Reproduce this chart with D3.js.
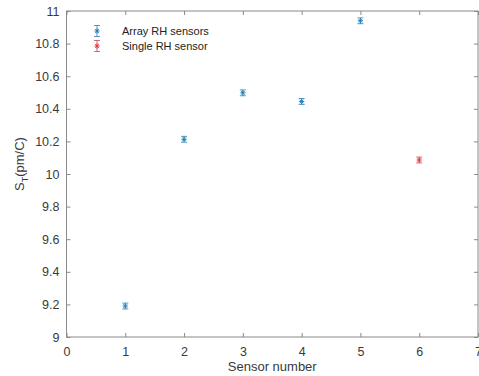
<!DOCTYPE html>
<html>
<head>
<meta charset="utf-8">
<script src="https://cdn.jsdelivr.net/npm/d3@7"></script>
<style>
  html, body { margin: 0; padding: 0; background: #fff; }
  svg { display: block; font-family: Arial, "Liberation Sans", Helvetica, sans-serif; }
</style>
</head>
<body>
<svg id="chart" width="479" height="376"></svg>
<script>
// ---- data ----
const arraySensors = [1, 2, 3, 4, 5];
const arrayValues = [9.19, 10.213, 10.498, 10.445, 10.94];
const arrayErrors = [0.018, 0.018, 0.018, 0.018, 0.018];
const singleSensors = [6];
const singleValues = [10.086];
const singleErrors = [0.018];
const xTicks = [0, 1, 2, 3, 4, 5, 6, 7];
const yTicks = [9, 9.2, 9.4, 9.6, 9.8, 10, 10.2, 10.4, 10.6, 10.8, 11];
const seriesNames = ["Array RH sensors", "Single RH sensor"];
const seriesColors = ["#2a82b5", "#d9404a"];

// ---- layout ----
const svg = d3.select("#chart");
const L = 66.5, R = 478, T = 11, B = 337;
const x = d3.scaleLinear().domain([0, 7]).range([L, R]);
const y = d3.scaleLinear().domain([9, 11]).range([B, T]);
const axisColor = "#8a8a8a";
const textColor = "#3a3a3a";

// plot box
svg.append("rect").attr("x", L).attr("y", T).attr("width", R - L).attr("height", B - T)
  .attr("fill", "none").attr("stroke", axisColor).attr("stroke-width", 1);

// axes (inward ticks)
const gx = svg.append("g").attr("transform", `translate(0,${B})`)
  .call(d3.axisBottom(x).tickValues(xTicks).tickSize(-4).tickPadding(10).tickFormat(d3.format("d")));
const gxTop = svg.append("g").attr("transform", `translate(0,${T})`)
  .call(d3.axisTop(x).tickValues(xTicks).tickSize(-4).tickFormat(""));
const gy = svg.append("g").attr("transform", `translate(${L},0)`)
  .call(d3.axisLeft(y).tickValues(yTicks).tickSize(-4).tickPadding(7).tickFormat(d => d3.format("")(+d.toFixed(1))));
const gyR = svg.append("g").attr("transform", `translate(${R},0)`)
  .call(d3.axisRight(y).tickValues(yTicks).tickSize(-4).tickFormat(""));
[gx, gxTop, gy, gyR].forEach(g => {
  g.select(".domain").remove();
  g.selectAll(".tick line").attr("stroke", axisColor);
  g.selectAll(".tick text").attr("fill", textColor).attr("font-size", 12.5)
    .attr("font-family", "Arial, 'Liberation Sans', sans-serif");
});

// axis labels
svg.append("text").attr("x", (L + R) / 2 + 0).attr("y", 371).attr("text-anchor", "middle")
  .attr("font-size", 13).attr("fill", textColor).text("Sensor number");
const yl = svg.append("text").attr("transform", `translate(24,${(T + B) / 2 - 10}) rotate(-90)`)
  .attr("text-anchor", "middle").attr("font-size", 13).attr("fill", textColor);
yl.append("tspan").text("S");
yl.append("tspan").attr("font-size", 9).attr("dy", 4).text("T");
yl.append("tspan").attr("dy", -4).text("(pm/C)");

// error bar + asterisk marker
function drawPoint(g, cx, cy, yTop, yBot, color) {
  const cap = 3;
  g.append("line").attr("x1", cx).attr("x2", cx).attr("y1", yTop).attr("y2", yBot)
    .attr("stroke", color).attr("stroke-width", 1).attr("opacity", 0.8);
  g.append("line").attr("x1", cx - cap).attr("x2", cx + cap).attr("y1", yTop).attr("y2", yTop)
    .attr("stroke", color).attr("stroke-width", 1).attr("opacity", 0.8);
  g.append("line").attr("x1", cx - cap).attr("x2", cx + cap).attr("y1", yBot).attr("y2", yBot)
    .attr("stroke", color).attr("stroke-width", 1).attr("opacity", 0.8);
  const s = 2.6;
  const path = `M${cx - s},${cy}L${cx + s},${cy}M${cx},${cy - s}L${cx},${cy + s}` +
    `M${cx - s * 0.7},${cy - s * 0.7}L${cx + s * 0.7},${cy + s * 0.7}` +
    `M${cx - s * 0.7},${cy + s * 0.7}L${cx + s * 0.7},${cy - s * 0.7}`;
  g.append("path").attr("d", path).attr("stroke", color).attr("stroke-width", 1).attr("fill", "none");
}

const gPts = svg.append("g");
arraySensors.forEach((s, i) => {
  drawPoint(gPts, x(s), y(arrayValues[i]), y(arrayValues[i] + arrayErrors[i]),
    y(arrayValues[i] - arrayErrors[i]), seriesColors[0]);
});
singleSensors.forEach((s, i) => {
  drawPoint(gPts, x(s), y(singleValues[i]), y(singleValues[i] + singleErrors[i]),
    y(singleValues[i] - singleErrors[i]), seriesColors[1]);
});

// legend
const lg = svg.append("g");
seriesNames.forEach((name, i) => {
  const ly = 31 + i * 15;
  drawPoint(lg, 97, ly, ly - 5.5, ly + 5.5, seriesColors[i]);
  lg.append("text").attr("x", 122).attr("y", ly + 4).attr("font-size", 11)
    .attr("fill", "#222").text(name);
});
</script>
</body>
</html>
